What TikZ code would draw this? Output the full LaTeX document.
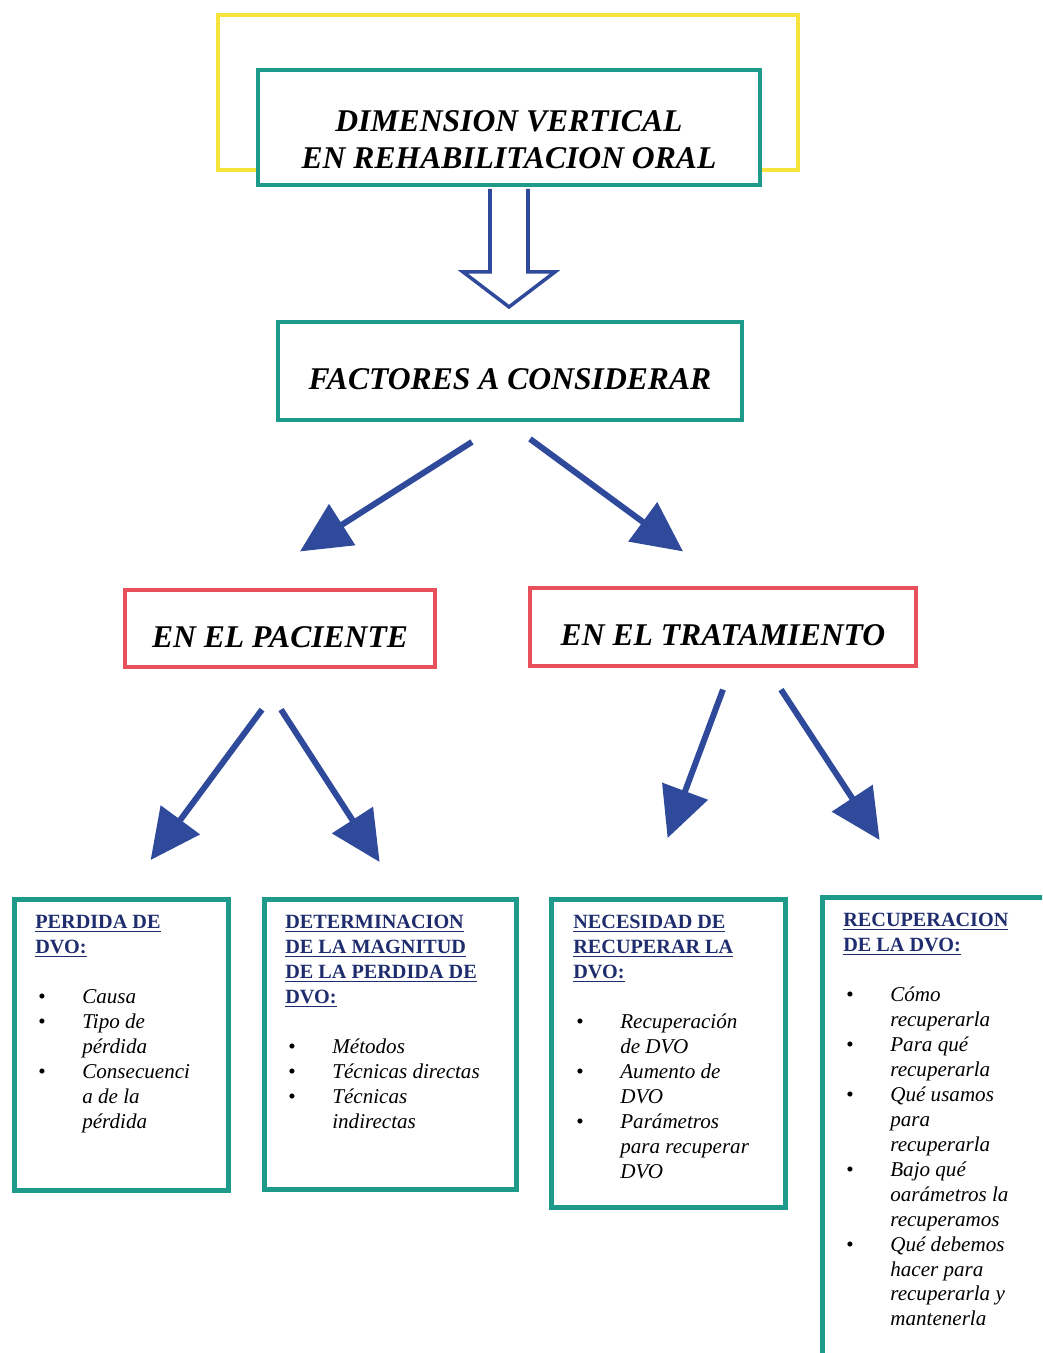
\documentclass[tikz,border=0pt]{standalone}
\usepackage{fontspec}
\setmainfont{Liberation Serif}
\usetikzlibrary{arrows.meta,positioning,calc}

\definecolor{dvoteal}{HTML}{1E9A8A}
\definecolor{dvoyellow}{HTML}{F7E43A}
\definecolor{dvored}{HTML}{E8505B}
\definecolor{dvoblue}{HTML}{2F4A9B}
\definecolor{dvonavy}{HTML}{1F2D6E}

\newcommand{\bitem}{\hspace*{0.06cm}\makebox[0.88cm][l]{\upshape\textbullet}}
\newcommand{\bcont}{\hspace*{0.94cm}}
\newcommand{\dvohead}[1]{{\upshape\bfseries\fontsize{11.5}{14.2}\selectfont\color{dvonavy}\underline{#1}}}

\begin{document}
\begin{tikzpicture}[
    x=0.02cm, y=-0.02cm,
    mainbox/.style={rectangle, draw=dvoteal, line width=2.2pt, fill=white, align=center,
                    font=\fontsize{18}{21}\selectfont\bfseries\itshape},
    sidebox/.style={rectangle, draw=dvored, line width=1.8pt, fill=white,
                    font=\fontsize{18}{21}\selectfont\bfseries\itshape},
    lowtext/.style={text height=0.74cm, text depth=0pt},
    listbox/.style={rectangle, draw=dvoteal, line width=3pt, fill=white, anchor=north west},
    listtext/.style={anchor=north west, inner sep=0pt, align=left,
                     font=\fontsize{12}{14.2}\selectfont\itshape},
    bigarrow/.style={draw=dvoblue, line width=0.12cm, -{Triangle[length=1cm,width=0.95cm]}},
    hollowarrow/.style={draw=dvoblue, line width=2pt, fill=white, line join=miter}
]
\useasboundingbox (0,0) rectangle (1042,1353);
\clip (0,0) rectangle (1042,1353);

% title block
\node[draw=dvoyellow, line width=2.3pt, minimum width=11.6cm, minimum height=3.1cm] (frame) at (508,92.5) {};
\node[mainbox, minimum width=10.04cm, minimum height=2.3cm] (title) at (509,127.5)
    {\rule{0pt}{0.9cm}DIMENSION VERTICAL\\EN REHABILITACION ORAL};
\node[mainbox, lowtext, minimum width=9.28cm, minimum height=1.96cm] (fact) at (510,371)
    {FACTORES A CONSIDERAR};
\draw[hollowarrow] ($(title.south)+(-19,2)$) -- ++(0,83) -- ++(-27,0) -- ++(46,35)
    -- ++(46,-35) -- ++(-27,0) -- ++(0,-83);

% second level
\node[sidebox, lowtext, minimum width=6.2cm, minimum height=1.54cm] (pac) at (280,628.5) {EN EL PACIENTE};
\node[sidebox, lowtext, minimum width=7.72cm, minimum height=1.56cm] (trat) at (723,627) {EN EL TRATAMIENTO};
\draw[bigarrow] ($(fact.south)+(-38,20)$) -- ($(pac.north)+(20,-37)$);
\draw[bigarrow] ($(fact.south)+(20,17)$) -- ($(trat.north)+(-40,-35)$);

% bottom boxes
\node[listbox, minimum width=4.28cm, minimum height=5.82cm] (b1) at (12,897) {};
\node[listbox, minimum width=5.04cm, minimum height=5.8cm] (b2) at (262,897) {};
\node[listbox, minimum width=4.68cm, minimum height=6.16cm] (b3) at (549,897) {};
\node[listbox, minimum width=4.8cm, minimum height=9.5cm] (b4) at (820,895) {};

\draw[bigarrow] ($(pac.south)+(-18,41)$) -- ($(b1.north)+(29,-37)$);
\draw[bigarrow] ($(pac.south)+(1,41)$) -- ($(b2.north)+(-11,-35)$);
\draw[bigarrow] ($(trat.south)+(0,22)$) -- ($(b3.north)+(-1,-59)$);
\draw[bigarrow] ($(trat.south)+(58,22)$) -- ($(b4.north)+(-63,-55)$);

\node[listtext] (t1) at ($(b1.north west)+(23,18)$)
    {\dvohead{PERDIDA DE}\\ \dvohead{DVO:}\\[14.2pt]
     \bitem Causa\\ \bitem Tipo de\\ \bcont pérdida\\
     \bitem Consecuenci\\ \bcont a de la\\ \bcont pérdida};
\node[listtext] (t2) at ($(b2.north west)+(23,18)$)
    {\dvohead{DETERMINACION}\\ \dvohead{DE LA MAGNITUD}\\ \dvohead{DE LA PERDIDA DE}\\
     \dvohead{DVO:}\\[14.2pt]
     \bitem Métodos\\ \bitem Técnicas directas\\ \bitem Técnicas\\ \bcont indirectas};
\node[listtext] (t3) at ($(b3.north west)+(24,18)$)
    {\dvohead{NECESIDAD DE}\\ \dvohead{RECUPERAR LA}\\ \dvohead{DVO:}\\[14.2pt]
     \bitem Recuperación\\ \bcont de DVO\\ \bitem Aumento de\\ \bcont DVO\\
     \bitem Parámetros\\ \bcont para recuperar\\ \bcont DVO};
\node[listtext] (t4) at ($(b4.north west)+(23,18)$)
    {\dvohead{RECUPERACION}\\ \dvohead{DE LA DVO:}\\[14.2pt]
     \bitem Cómo\\ \bcont recuperarla\\ \bitem Para qué\\ \bcont recuperarla\\
     \bitem Qué usamos\\ \bcont para\\ \bcont recuperarla\\
     \bitem Bajo qué\\ \bcont oarámetros la\\ \bcont recuperamos\\
     \bitem Qué debemos\\ \bcont hacer para\\ \bcont recuperarla y\\ \bcont mantenerla};
\end{tikzpicture}
\end{document}
